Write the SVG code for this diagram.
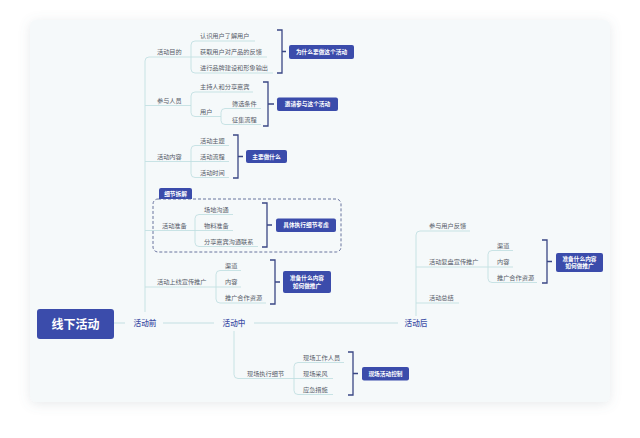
<svg xmlns="http://www.w3.org/2000/svg" width="640" height="438" viewBox="0 0 640 438">
<defs>
<filter id="sh" x="-10%" y="-10%" width="120%" height="120%">
<feDropShadow dx="0" dy="2" stdDeviation="6" flood-color="#6a7a8a" flood-opacity="0.16"/>
</filter>
<style>
text{font-family:"Noto Sans CJK SC","Noto Sans",sans-serif}
.ln{fill:none;stroke:#c3e0e2;stroke-width:0.9}
.mln{fill:none;stroke:#c3e0e2;stroke-width:1.2}
.br{fill:none;stroke:#3a4785;stroke-width:1.3}
.t{font-size:6.2px;fill:#565b68}
.sb{fill:#3b4cab}
.st{font-size:5.7px;fill:#fff;font-weight:bold;text-anchor:middle}
.m{font-size:7.6px;fill:#3f50a6;font-weight:500;text-anchor:middle}
</style>
</defs>
<rect width="640" height="438" fill="#ffffff"/>
<rect x="30" y="20" width="580" height="382" rx="6" fill="#f5f9fa" filter="url(#sh)"/>

<g id="connectors">
<path class="mln" d="M114 323 H125 M163 323 H214 M254 323 H398"/>
<path class="ln" d="M145 312 V61 Q145 57 149 57 H191 M145 105.5 H191 M145 161.5 H191 M145 230.5 H195 M145 287 H216"/>
<path class="ln" d="M191 57 V45 Q191 41 195 41 H255 M191 57 H267 M191 57 V69 Q191 73 195 73 H273"/>
<path class="ln" d="M191 105.5 V96 Q191 92 195 92 H253 M191 105.5 V112.5 Q191 116.5 195 116.5 H221"/>
<path class="ln" d="M221 116.5 V112.5 Q221 108.5 225 108.5 H261 M221 116.5 V120.5 Q221 124.5 225 124.5 H261"/>
<path class="ln" d="M191 161.5 V149.5 Q191 145.5 195 145.5 H229 M191 161.5 H229 M191 161.5 V173.5 Q191 177.5 195 177.5 H229"/>
<path class="ln" d="M195 230.5 V218.5 Q195 214.5 199 214.5 H233 M195 230.5 H233 M195 230.5 V242.5 Q195 246.5 199 246.5 H258"/>
<path class="ln" d="M216 287 V274.5 Q216 270.5 220 270.5 H241 M216 287 H241 M216 287 V299 Q216 303 220 303 H266"/>
<path class="ln" d="M234 331 V374.5 Q234 378.5 238 378.5 H294"/>
<path class="ln" d="M294 378.5 V366.5 Q294 362.5 298 362.5 H344 M294 378.5 H333 M294 378.5 V390.5 Q294 394.5 298 394.5 H333"/>
<path class="ln" d="M416 316 V235 Q416 231 420 231 H470 M416 267 H488 M416 303 H459"/>
<path class="ln" d="M488 267 V254.5 Q488 250.5 492 250.5 H513 M488 267 H513 M488 267 V278.5 Q488 282.5 492 282.5 H537"/>
<path class="br" d="M277 30 H282 V73 H277 M282 51.5 H286"/>
<path class="br" d="M263 82 H268 V126 H263 M268 104 H274"/>
<path class="br" d="M233 135 H238 V178 H233 M238 156.5 H243"/>
<path class="br" d="M262 203 H267 V247 H262 M267 225 H272"/>
<path class="br" d="M270 260 H275 V304 H270 M275 282 H280"/>
<path class="br" d="M348 352 H353 V395 H348 M353 373.5 H358"/>
<path class="br" d="M542 240 H547 V283 H542 M547 261.5 H552"/>
</g>

<g id="root">
<rect x="37" y="309" width="77" height="30" rx="3" fill="#3b4cab"/>
<text x="75.5" y="328.5" font-size="12" font-weight="bold" fill="#fff" text-anchor="middle">线下活动</text>
</g>
<g id="before"><text class="m" x="145" y="325.8">活动前</text></g>
<g id="during"><text class="m" x="234" y="325.8">活动中</text></g>
<g id="after"><text class="m" x="416" y="325.8">活动后</text></g>

<g id="purpose">
<text class="t" x="157" y="54">活动目的</text>
<text class="t" x="200" y="38">认识用户了解用户</text>
<text class="t" x="200" y="54">获取用户对产品的反馈</text>
<text class="t" x="200" y="70">进行品牌建设和形象输出</text>
<rect class="sb" x="289" y="45" width="65" height="14" rx="2"/>
<text class="st" x="321.5" y="54">为什么要做这个活动</text>
</g>

<g id="people">
<text class="t" x="157" y="102.5">参与人员</text>
<text class="t" x="200" y="89">主持人和分享嘉宾</text>
<text class="t" x="200" y="113.5">用户</text>
<text class="t" x="232" y="105.5">筛选条件</text>
<text class="t" x="232" y="121.5">征集流程</text>
<rect class="sb" x="277" y="97.5" width="61" height="13.5" rx="2"/>
<text class="st" x="307.5" y="106.3">邀请参与这个活动</text>
</g>

<g id="content">
<text class="t" x="157" y="158.5">活动内容</text>
<text class="t" x="200" y="142.5">活动主题</text>
<text class="t" x="200" y="158.5">活动流程</text>
<text class="t" x="200" y="174.5">活动时间</text>
<rect class="sb" x="246" y="150" width="41" height="13" rx="2"/>
<text class="st" x="266.5" y="158.6">主要做什么</text>
</g>

<g id="detail">
<rect x="153" y="199" width="188" height="53" rx="5" fill="none" stroke="#5a6494" stroke-width="0.9" stroke-dasharray="3 2"/>
<path class="sb" d="M159 199 V190 Q159 188 161 188 H190 Q192 188 192 190 V199 Z"/>
<text class="st" x="175.5" y="196" font-size="5.3">细节拆解</text>
<text class="t" x="162" y="227.5">活动准备</text>
<text class="t" x="204" y="211.5">场地沟通</text>
<text class="t" x="204" y="227.5">物料准备</text>
<text class="t" x="204" y="243.5">分享嘉宾沟通联系</text>
<rect class="sb" x="276" y="218.5" width="60" height="13.5" rx="2"/>
<text class="st" x="306" y="227.3">具体执行细节考虑</text>
</g>

<g id="promo">
<text class="t" x="157" y="284">活动上线宣传推广</text>
<text class="t" x="225" y="267.5">渠道</text>
<text class="t" x="225" y="284">内容</text>
<text class="t" x="225" y="300">推广合作资源</text>
<rect class="sb" x="283" y="271" width="48" height="22" rx="2"/>
<text class="st" x="307" y="279.8">准备什么内容</text>
<text class="st" x="307" y="288.3">如何做推广</text>
</g>

<g id="onsite">
<text class="t" x="247" y="375.5">现场执行细节</text>
<text class="t" x="303" y="359.5">现场工作人员</text>
<text class="t" x="303" y="375.5">现场采风</text>
<text class="t" x="303" y="391.5">应急措施</text>
<rect class="sb" x="362" y="367" width="47" height="13.5" rx="2"/>
<text class="st" x="385.5" y="375.8">现场活动控制</text>
</g>

<g id="review">
<text class="t" x="429" y="228">参与用户反馈</text>
<text class="t" x="429" y="264">活动复盘宣传推广</text>
<text class="t" x="429" y="300">活动总结</text>
<text class="t" x="497" y="247.5">渠道</text>
<text class="t" x="497" y="263.5">内容</text>
<text class="t" x="497" y="279.5">推广合作资源</text>
<rect class="sb" x="556" y="253" width="47" height="19" rx="2"/>
<text class="st" x="579.5" y="260.6">准备什么内容</text>
<text class="st" x="579.5" y="268.2">如何做推广</text>
</g>
</svg>
